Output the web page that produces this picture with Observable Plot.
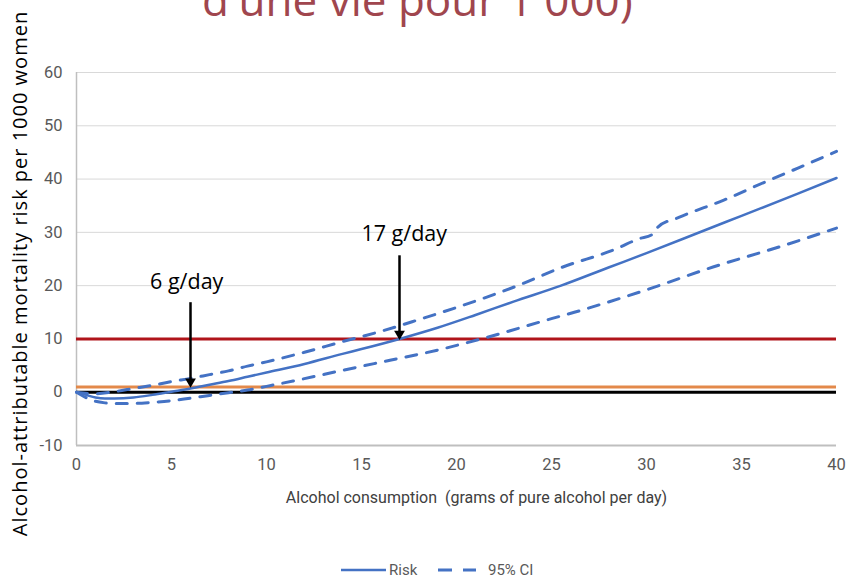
<!DOCTYPE html>
<html><head><meta charset="utf-8">
<script src="https://cdn.jsdelivr.net/npm/d3@7"></script>
<script src="https://cdn.jsdelivr.net/npm/@observablehq/plot@0.6"></script>
<style>
html,body{margin:0;padding:0;background:#fff;}
#chart{position:relative;width:846px;height:582px;overflow:hidden;}
</style></head><body><div id="chart"></div>
<script>
// ---- data ----
const xTicks = [0, 5, 10, 15, 20, 25, 30, 35, 40];
const yTicks = [-10, 0, 10, 20, 30, 40, 50, 60];

const riskX = [0,0.5,1,1.5,2,3,4,5,6,7,8,9,10,12,14,15,17,19,21,23,25.5,28,30,33,35,38,40];
const riskY = [0,-0.5,-1.0,-1.2,-1.2,-1.0,-0.5,0.1,0.7,1.4,2.1,2.9,3.7,5.3,7.2,8.1,10.0,12.1,14.5,17.0,20.0,23.4,26.1,30.3,33.1,37.3,40.2];

const upperX = [0,1,2,3,4,5,6,7,8,9,10,12,14,16,18,20,23,25.6,28.4,29.6,30.3,30.6,31.7,34.1,36.4,38,40];
const upperY = [0,-0.3,0.1,0.7,1.3,2.0,2.6,3.3,4.0,4.9,5.7,7.5,9.5,11.4,13.6,15.9,19.7,23.5,26.9,28.8,29.6,31.0,32.8,36.1,39.7,42.1,45.2];

const lowerX = [0,0.5,1,1.5,2,3,4,5,6,7,8,9,10,11.4,14,16.5,19,21.3,25,26.2,29.9,33.5,37.1,40];
const lowerY = [0,-1.0,-1.7,-2.0,-2.1,-2.1,-1.9,-1.6,-1.1,-0.6,-0.1,0.4,1.1,2.1,4.1,6.0,7.9,10.0,13.8,15.0,19.1,23.5,27.4,30.8];

const zeroLine = [0];
const lowThreshold = [1];
const highThreshold = [10];

const annX = [6, 17];
const annTextX = [5.8, 17.25];
const annLabel = ["6 g/day", "17 g/day"];
const annTextY = [20.6, 29.6];
const annTop = [16.8, 25.6];
const annTip = [1.25, 10.2];

const titleText = "d'une vie pour 1 000)";
const yLabel = "Alcohol-attributable mortality risk per 1000 women";
const xLabel = "Alcohol consumption  (grams of pure alcohol per day)";
const legendLabels = ["Risk", "95% CI"];

// ---- tables ----
const risk = riskX.map((x, i) => ({x, y: riskY[i]}));
const upper = upperX.map((x, i) => ({x, y: upperY[i]}));
const lower = lowerX.map((x, i) => ({x, y: lowerY[i]}));
const ann = annX.map((x, i) => ({x, tx: annTextX[i], label: annLabel[i], ty: annTextY[i], top: annTop[i], tip: annTip[i]}));

const BLUE = "#4472C4";
const DASH = "11,10";

const plot = Plot.plot({
  width: 846, height: 582,
  marginTop: 72, marginBottom: 137, marginLeft: 76, marginRight: 10,
  style: {background: "white", fontFamily: "Roboto, sans-serif", color: "#595959"},
  x: {domain: [0, 40]},
  y: {domain: [-10, 60]},
  marks: [
    Plot.ruleY(yTicks.filter(d => d > -10), {stroke: "#d9d9d9", strokeWidth: 1}),
    Plot.ruleY([yTicks[0]], {stroke: "#bfbfbf", strokeWidth: 2}),
    Plot.ruleX([xTicks[0]], {stroke: "#bfbfbf", strokeWidth: 1.5}),
    Plot.axisX({ticks: xTicks, tickSize: 0, tickPadding: 13, fontSize: 16.5, label: null, tickFormat: d => String(d)}),
    Plot.axisY({ticks: yTicks, tickSize: 0, tickPadding: 14, fontSize: 16.5, label: null, tickFormat: d => String(d)}),
    Plot.ruleY(lowThreshold, {stroke: "#E3894A", strokeWidth: 3}),
    Plot.ruleY(zeroLine, {stroke: "#000000", strokeWidth: 3}),
    Plot.ruleY(highThreshold, {stroke: "#B0141A", strokeWidth: 3}),
    Plot.line(upper, {x: "x", y: "y", stroke: BLUE, strokeWidth: 3, strokeDasharray: DASH, curve: "monotone-x"}),
    Plot.line(lower, {x: "x", y: "y", stroke: BLUE, strokeWidth: 3, strokeDasharray: DASH, curve: "monotone-x"}),
    Plot.line(risk, {x: "x", y: "y", stroke: BLUE, strokeWidth: 2.5, curve: "monotone-x"}),
    Plot.ruleX(ann, {x: "x", y1: "top", y2: "tip", stroke: "black", strokeWidth: 2.5}),
    Plot.dot(ann, {x: "x", y: "tip", symbol: "triangle", rotate: 180, r: 4, fill: "black", stroke: "none", dy: -4}),
    Plot.text(ann, {x: "tx", y: "ty", text: "label", fill: "black", fontSize: 21.5, fontFamily: "Open Sans, sans-serif"}),
    Plot.text([yLabel], {frameAnchor: "left", textAnchor: "middle", rotate: -90, dx: -56, dy: 14.5, fill: "black", fontSize: 20, fontFamily: "Open Sans, sans-serif"}),
    Plot.text([xLabel], {frameAnchor: "bottom", textAnchor: "middle", dx: 20, dy: 57, fill: "#404040", fontSize: 16, fontFamily: "Roboto, sans-serif"})
  ]
});

const svg = d3.select(plot);
// widen the rotated y label slightly to match the reference's wider face
svg.selectAll("text").filter(function() { return this.textContent === yLabel; })
  .style("letter-spacing", "1px");

svg.append("text")
  .attr("x", 202).attr("y", 16)
  .attr("text-anchor", "start")
  .attr("fill", "#A0464E")
  .attr("font-family", "Open Sans, sans-serif")
  .attr("font-size", 44)
  .text(titleText);

const lg = svg.append("g").attr("font-family", "Roboto, sans-serif").attr("font-size", 15).attr("fill", "#595959").attr("text-anchor", "start");
lg.append("line").attr("x1", 341).attr("x2", 386).attr("y1", 570).attr("y2", 570).attr("stroke", BLUE).attr("stroke-width", 2.5);
lg.append("text").attr("x", 389).attr("y", 570).attr("dy", "0.35em").text(legendLabels[0]);
lg.append("line").attr("x1", 438).attr("x2", 476).attr("y1", 570).attr("y2", 570).attr("stroke", BLUE).attr("stroke-width", 3).attr("stroke-dasharray", "14,11");
lg.append("text").attr("x", 488).attr("y", 570).attr("dy", "0.35em").text(legendLabels[1]);

document.getElementById("chart").appendChild(plot);
</script>
</body></html>
